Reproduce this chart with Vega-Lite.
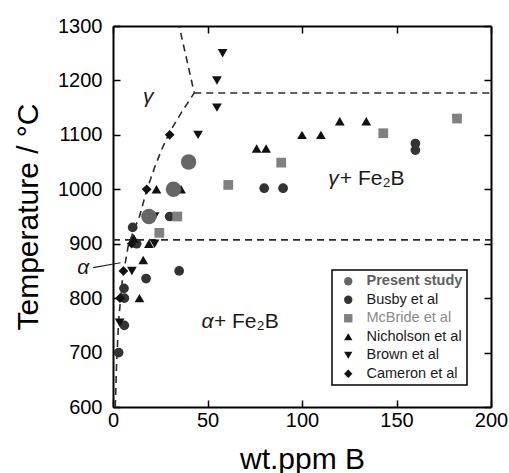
{
  "$schema": "https://vega.github.io/schema/vega-lite/v6.json",
  "width": 378,
  "height": 381,
  "autosize": "none",
  "padding": {"left": 113, "top": 26, "right": 18, "bottom": 66},
  "config": {
    "font": "Liberation Sans",
    "view": {"stroke": null},
    "axis": {
      "grid": false,
      "domainColor": "black",
      "domainWidth": 2,
      "tickColor": "black",
      "tickWidth": 1.5,
      "tickSize": 7,
      "labelFontSize": 20,
      "labelColor": "black",
      "labelFont": "Liberation Sans",
      "labelFlush": false,
      "titleFontSize": 30,
      "titleFontWeight": "normal",
      "titleColor": "black",
      "titleFont": "Liberation Sans"
    },
    "legend": {
      "orient": "none",
      "legendX": 219,
      "legendY": 244,
      "strokeColor": "black",
      "strokeWidth": 1.5,
      "fillColor": "white",
      "padding": 4,
      "labelFontSize": 14.5,
      "labelFont": "Liberation Sans",
      "symbolSize": 70,
      "rowPadding": 3.5,
      "labelOffset": 11,
      "symbolOffset": 5,
      "symbolStrokeWidth": 0
    }
  },
  "datasets": {
    "points": [
      {"study": "Present study", "x": 19, "y": 950},
      {"study": "Present study", "x": 32, "y": 1000},
      {"study": "Present study", "x": 40, "y": 1050},
      {"study": "Busby et al", "x": 3, "y": 700},
      {"study": "Busby et al", "x": 6, "y": 750},
      {"study": "Busby et al", "x": 6, "y": 800},
      {"study": "Busby et al", "x": 5.8, "y": 818},
      {"study": "Busby et al", "x": 17.5, "y": 836},
      {"study": "Busby et al", "x": 35, "y": 850},
      {"study": "Busby et al", "x": 12.5, "y": 900},
      {"study": "Busby et al", "x": 10.4, "y": 930},
      {"study": "Busby et al", "x": 30, "y": 950},
      {"study": "Busby et al", "x": 80, "y": 1002},
      {"study": "Busby et al", "x": 90, "y": 1002},
      {"study": "Busby et al", "x": 160, "y": 1072},
      {"study": "Busby et al", "x": 160, "y": 1084},
      {"study": "McBride et al", "x": 24.5, "y": 920},
      {"study": "McBride et al", "x": 34, "y": 950},
      {"study": "McBride et al", "x": 61, "y": 1008},
      {"study": "McBride et al", "x": 89, "y": 1049},
      {"study": "McBride et al", "x": 143, "y": 1103},
      {"study": "McBride et al", "x": 182, "y": 1130},
      {"study": "Nicholson et al", "x": 14, "y": 800},
      {"study": "Nicholson et al", "x": 16, "y": 870},
      {"study": "Nicholson et al", "x": 11, "y": 910},
      {"study": "Nicholson et al", "x": 19, "y": 900},
      {"study": "Nicholson et al", "x": 23, "y": 1000},
      {"study": "Nicholson et al", "x": 36, "y": 1000},
      {"study": "Nicholson et al", "x": 76, "y": 1075},
      {"study": "Nicholson et al", "x": 81, "y": 1075},
      {"study": "Nicholson et al", "x": 100, "y": 1100},
      {"study": "Nicholson et al", "x": 110, "y": 1100},
      {"study": "Nicholson et al", "x": 120, "y": 1125},
      {"study": "Nicholson et al", "x": 134, "y": 1125},
      {"study": "Brown et al", "x": 3.5, "y": 755},
      {"study": "Brown et al", "x": 10, "y": 850},
      {"study": "Brown et al", "x": 22, "y": 900},
      {"study": "Brown et al", "x": 22, "y": 950},
      {"study": "Brown et al", "x": 45, "y": 1100},
      {"study": "Brown et al", "x": 55, "y": 1150},
      {"study": "Brown et al", "x": 55, "y": 1200},
      {"study": "Brown et al", "x": 58, "y": 1250},
      {"study": "Cameron et al", "x": 3.7, "y": 800},
      {"study": "Cameron et al", "x": 5.5, "y": 850},
      {"study": "Cameron et al", "x": 9.9, "y": 900},
      {"study": "Cameron et al", "x": 17.8, "y": 1000},
      {"study": "Cameron et al", "x": 30, "y": 1100}
    ],
    "boundaries": [
      {"line": "curve", "i": 1, "x": 1.2, "y": 600},
      {"line": "curve", "i": 2, "x": 1.9, "y": 680},
      {"line": "curve", "i": 3, "x": 3, "y": 760},
      {"line": "curve", "i": 4, "x": 5, "y": 835},
      {"line": "curve", "i": 5, "x": 8, "y": 895},
      {"line": "curve", "i": 6, "x": 11, "y": 925},
      {"line": "curve", "i": 7, "x": 14, "y": 950},
      {"line": "curve", "i": 8, "x": 16, "y": 975},
      {"line": "curve", "i": 9, "x": 18, "y": 1000},
      {"line": "curve", "i": 10, "x": 22, "y": 1040},
      {"line": "curve", "i": 11, "x": 26, "y": 1075},
      {"line": "curve", "i": 12, "x": 30, "y": 1105},
      {"line": "curve", "i": 13, "x": 36, "y": 1140},
      {"line": "curve", "i": 14, "x": 43, "y": 1177},
      {"line": "curve", "i": 15, "x": 35, "y": 1300},
      {"line": "upper", "i": 1, "x": 43, "y": 1177},
      {"line": "upper", "i": 2, "x": 200, "y": 1177},
      {"line": "lower", "i": 1, "x": 0, "y": 907},
      {"line": "lower", "i": 2, "x": 200, "y": 907}
    ],
    "pointer": [
      {"i": 1, "x": -10.5, "y": 856},
      {"i": 2, "x": 4, "y": 865}
    ],
    "greek": [
      {"t": "γ", "x": 18.7, "y": 1170},
      {"t": "γ", "x": 116.7, "y": 1018},
      {"t": "α", "x": -15.7, "y": 855},
      {"t": "α", "x": 50, "y": 757}
    ],
    "phase": [
      {"t": "+ Fe₂B", "x": 120, "y": 1018},
      {"t": "+ Fe₂B", "x": 53.4, "y": 757}
    ],
    "frame": [
      {"x": 0, "y": 600},
      {"x": 200, "y": 1300}
    ]
  },
  "layer": [
    {
      "layer": [
        {
          "data": {"name": "boundaries"},
          "mark": {"type": "line", "color": "#2a2a2a", "strokeWidth": 1.6, "strokeDash": [7, 5]},
          "encoding": {
            "x": {
              "field": "x", "type": "quantitative",
              "scale": {"domain": [0, 200], "nice": false},
              "axis": {"values": [0, 50, 100, 150, 200], "title": "wt.ppm B", "ticks": false, "labelPadding": 3, "titlePadding": 14}
            },
            "y": {
              "field": "y", "type": "quantitative",
              "scale": {"domain": [600, 1300], "nice": false, "zero": false},
              "axis": {"values": [600, 700, 800, 900, 1000, 1100, 1200, 1300], "format": "d", "title": "Temperature / °C", "ticks": false, "labelPadding": 11, "titlePadding": 14}
            },
            "detail": {"field": "line"},
            "order": {"field": "i"}
          }
        },
        {
          "data": {"name": "pointer"},
          "mark": {"type": "line", "color": "#222222", "strokeWidth": 1.2},
          "encoding": {
            "x": {"field": "x", "type": "quantitative"},
            "y": {"field": "y", "type": "quantitative"},
            "order": {"field": "i"}
          }
        },
        {
          "data": {"name": "points"},
          "transform": [{"filter": "datum.study != 'Present study'"}],
          "mark": {"type": "point", "filled": true, "opacity": 1, "strokeWidth": 0, "size": 95},
          "encoding": {
            "x": {"field": "x", "type": "quantitative"},
            "y": {"field": "y", "type": "quantitative"},
            "color": {
              "field": "study", "type": "nominal",
              "scale": {
                "domain": ["Present study", "Busby et al", "McBride et al", "Nicholson et al", "Brown et al", "Cameron et al"],
                "range": ["#666666", "#333333", "#808080", "#111111", "#111111", "#111111"]
              },
              "legend": {
                "title": null,
                "labelColor": {"expr": "datum.label == 'Present study' ? '#5f5f5f' : datum.label == 'McBride et al' ? '#8a8a8a' : '#1a1a1a'"},
                "labelFontWeight": {"expr": "datum.label == 'Present study' ? 'bold' : 'normal'"}
              }
            },
            "shape": {
              "field": "study", "type": "nominal",
              "scale": {
                "domain": ["Present study", "Busby et al", "McBride et al", "Nicholson et al", "Brown et al", "Cameron et al"],
                "range": ["circle", "circle", "square", "triangle-up", "triangle-down", "diamond"]
              },
              "legend": {
                "title": null,
                "labelColor": {"expr": "datum.label == 'Present study' ? '#5f5f5f' : datum.label == 'McBride et al' ? '#8a8a8a' : '#1a1a1a'"},
                "labelFontWeight": {"expr": "datum.label == 'Present study' ? 'bold' : 'normal'"}
              }
            }
          }
        },
        {
          "data": {"name": "points"},
          "transform": [{"filter": "datum.study == 'Present study'"}],
          "mark": {"type": "point", "filled": true, "opacity": 1, "strokeWidth": 0, "size": 240},
          "encoding": {
            "x": {"field": "x", "type": "quantitative"},
            "y": {"field": "y", "type": "quantitative"},
            "color": {"field": "study", "type": "nominal"},
            "shape": {"field": "study", "type": "nominal"}
          }
        },
        {
          "data": {"name": "greek"},
          "mark": {"type": "text", "font": "Liberation Sans", "fontStyle": "italic", "fontSize": 21, "align": "center", "baseline": "middle", "color": "#1a1a1a"},
          "encoding": {
            "x": {"field": "x", "type": "quantitative"},
            "y": {"field": "y", "type": "quantitative"},
            "text": {"field": "t"}
          }
        },
        {
          "data": {"name": "phase"},
          "mark": {"type": "text", "font": "Liberation Sans", "fontSize": 21, "align": "left", "baseline": "middle", "color": "#1a1a1a"},
          "encoding": {
            "x": {"field": "x", "type": "quantitative"},
            "y": {"field": "y", "type": "quantitative"},
            "text": {"field": "t"}
          }
        }
      ]
    },
    {
      "data": {"name": "frame"},
      "mark": {"type": "point", "opacity": 0},
      "encoding": {
        "x": {
          "field": "x", "type": "quantitative",
          "scale": {"domain": [0, 200], "nice": false},
          "axis": {"orient": "top", "offset": -381, "domain": false, "labels": false, "title": null, "values": [0, 50, 100, 150, 200]}
        },
        "y": {
          "field": "y", "type": "quantitative",
          "scale": {"domain": [600, 1300], "nice": false, "zero": false},
          "axis": {"orient": "right", "offset": -378, "domain": false, "labels": false, "title": null, "values": [600, 700, 800, 900, 1000, 1100, 1200, 1300]}
        }
      }
    },
    {
      "data": {"name": "frame"},
      "mark": {"type": "point", "opacity": 0},
      "encoding": {
        "x": {
          "field": "x", "type": "quantitative",
          "scale": {"domain": [0, 200], "nice": false},
          "axis": {"orient": "bottom", "offset": -381, "labels": false, "title": null, "values": [0, 50, 100, 150, 200]}
        },
        "y": {
          "field": "y", "type": "quantitative",
          "scale": {"domain": [600, 1300], "nice": false, "zero": false},
          "axis": {"orient": "left", "offset": -378, "labels": false, "title": null, "values": [600, 700, 800, 900, 1000, 1100, 1200, 1300]}
        }
      }
    }
  ],
  "resolve": {"scale": {"x": "independent", "y": "independent"}}
}
